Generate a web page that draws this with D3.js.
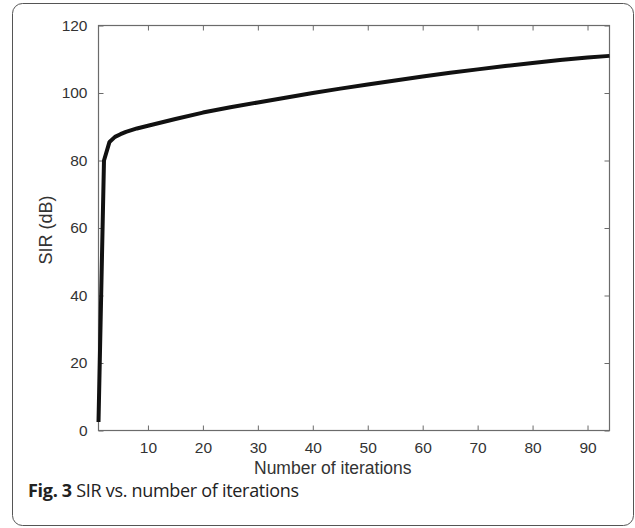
<!DOCTYPE html>
<html>
<head>
<meta charset="utf-8">
<script src="https://cdn.jsdelivr.net/npm/d3@7"></script>
<style>
  html, body { margin: 0; padding: 0; background: #fff; }
  svg { display: block; }
</style>
</head>
<body>
<svg id="chart" width="635" height="528"></svg>
<script>
// ---- data ----
const iterations = [1, 2, 3, 4, 5, 6, 8, 10, 15, 20, 25, 30, 35, 40, 45, 50, 55, 60, 65, 70, 75, 80, 85, 90, 94];
const sirDb      = [2.5, 80, 85.5, 87, 87.8, 88.5, 89.5, 90.3, 92.3, 94.2, 95.8, 97.2, 98.6, 100.0, 101.3, 102.5, 103.7, 104.9, 106.0, 107.0, 108.0, 108.9, 109.8, 110.5, 111.0];
const xTicks = [10, 20, 30, 40, 50, 60, 70, 80, 90];
const yTicks = [0, 20, 40, 60, 80, 100, 120];
const xLabel = "Number of iterations";
const yLabel = "SIR (dB)";
const captionBold = "Fig. 3";
const captionText = "SIR vs. number of iterations";

const svg = d3.select("#chart");
const m = { left: 98.5, right: 609.5, top: 25.5, bottom: 430.5 };

// outer frame
svg.append("rect")
  .attr("x", 12.5).attr("y", 3.5).attr("width", 621).attr("height", 522)
  .attr("rx", 10).attr("ry", 10)
  .attr("fill", "none").attr("stroke", "#555").attr("stroke-width", 1);

const x = d3.scaleLinear().domain([1, 94]).range([m.left, m.right]);
const y = d3.scaleLinear().domain([0, 120]).range([m.bottom, m.top]);

const axisColor = "#6b6b6b";
const textColor = "#333";
const font = "'Liberation Sans', Arial, sans-serif";

function styleAxis(g, showText) {
  g.select(".domain").remove();
  g.selectAll(".tick line").attr("stroke", axisColor).attr("stroke-width", 1);
  g.selectAll(".tick text")
    .attr("fill", textColor)
    .style("font-family", font)
    .style("font-size", "15.5px");
  if (!showText) g.selectAll(".tick text").remove();
}

// bottom axis (ticks inward)
const gx = svg.append("g").attr("transform", `translate(0,${m.bottom})`)
  .call(d3.axisBottom(x).tickValues(xTicks).tickSizeInner(-5).tickSizeOuter(0).tickPadding(11));
styleAxis(gx, true);
// top axis ticks
const gxt = svg.append("g").attr("transform", `translate(0,${m.top})`)
  .call(d3.axisTop(x).tickValues(xTicks).tickSizeInner(-5).tickSizeOuter(0));
styleAxis(gxt, false);
// left axis
const gy = svg.append("g").attr("transform", `translate(${m.left},0)`)
  .call(d3.axisLeft(y).tickValues(yTicks).tickSizeInner(-5).tickSizeOuter(0).tickPadding(11));
styleAxis(gy, true);
// right axis ticks
const gyr = svg.append("g").attr("transform", `translate(${m.right},0)`)
  .call(d3.axisRight(y).tickValues(yTicks).tickSizeInner(-5).tickSizeOuter(0));
styleAxis(gyr, false);

// box
svg.append("rect")
  .attr("x", m.left).attr("y", m.top)
  .attr("width", m.right - m.left).attr("height", m.bottom - m.top)
  .attr("fill", "none").attr("stroke", axisColor).attr("stroke-width", 1.2);

// line
const line = d3.line().x((d, i) => x(iterations[i])).y(d => y(d));
svg.append("path")
  .datum(sirDb)
  .attr("d", line)
  .attr("fill", "none")
  .attr("stroke", "#111")
  .attr("stroke-width", 4)
  .attr("stroke-linejoin", "round")
  .attr("stroke-linecap", "butt");

// axis labels
svg.append("text")
  .attr("x", 254).attr("y", 474)
  .attr("text-anchor", "start")
  .attr("fill", textColor)
  .style("font-family", font).style("font-size", "17.5px")
  .text(xLabel);

svg.append("text")
  .attr("transform", `translate(51.5,${(m.top + m.bottom) / 2 + 2}) rotate(-90)`)
  .attr("text-anchor", "middle")
  .attr("fill", textColor)
  .style("font-family", font).style("font-size", "18px")
  .text(yLabel);

// caption
const cap = svg.append("text")
  .attr("x", 28).attr("y", 497)
  .attr("fill", "#222")
  .style("font-family", "'Open Sans', 'Noto Sans', sans-serif")
  .style("font-size", "18px")
  .style("letter-spacing", "-0.3px");
cap.append("tspan").style("font-weight", "bold").text(captionBold);
cap.append("tspan").text(" " + captionText);
</script>
</body>
</html>
